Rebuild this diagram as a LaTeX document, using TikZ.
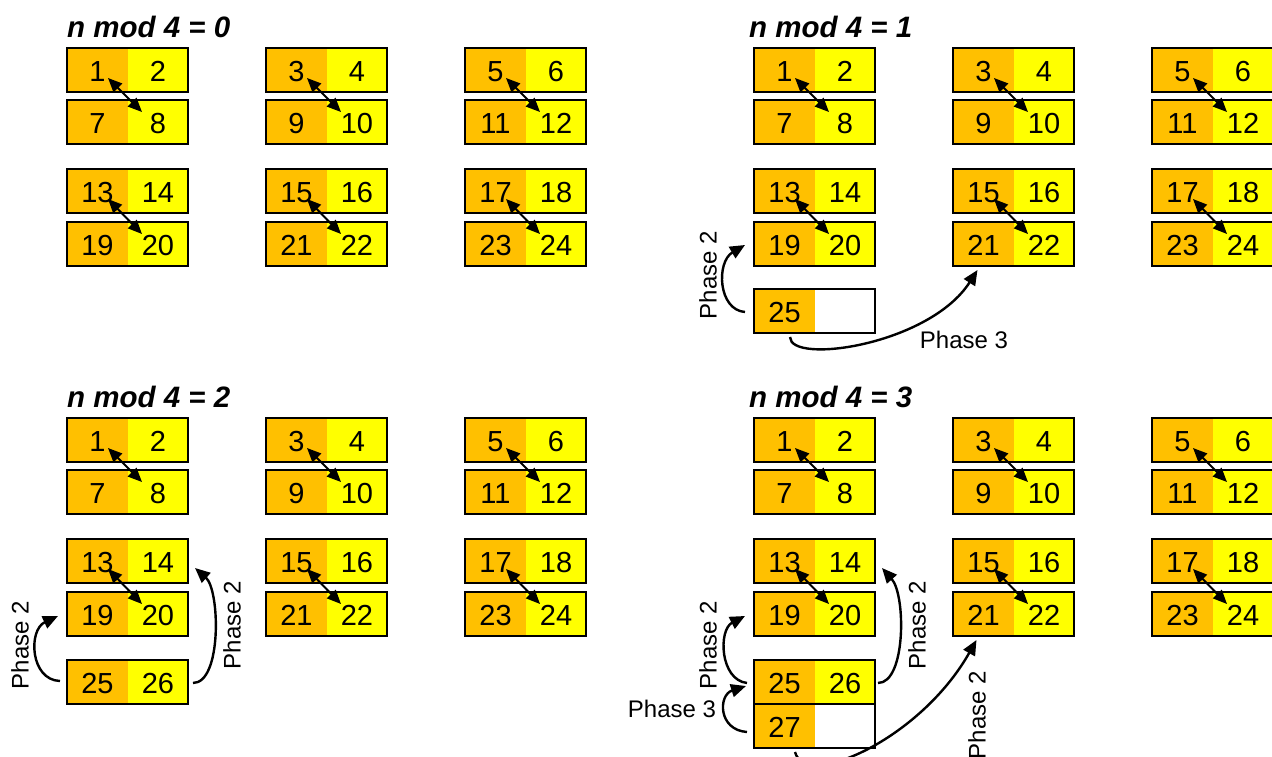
\documentclass[tikz,border=0pt]{standalone}
\usepackage{fontspec}
\setmainfont{Liberation Sans}
\usetikzlibrary{arrows.meta,calc}
\definecolor{cOrange}{RGB}{255,192,0}
\definecolor{cYellow}{RGB}{255,255,0}
\tikzset{
  cell/.style={minimum height=44pt, inner sep=0pt, outer sep=0pt, anchor=north west,
    text height=22.8pt, text depth=0pt, font=\fontsize{29}{29}\selectfont},
  lcell/.style={cell, minimum width=61pt, fill=cOrange},
  rcell/.style={cell, minimum width=60pt, fill=cYellow},
  wcell/.style={cell, minimum width=60pt},
  frame/.style={draw=black, line width=2pt},
  swaparrow/.style={line width=2pt, {Triangle[length=14pt,width=12pt]}-{Triangle[length=14pt,width=12pt]}},
  phase/.style={line width=2.4pt, -{Triangle[length=15pt,width=13pt]}},
  plabel/.style={font=\fontsize{24}{24}\selectfont, inner sep=0pt},
  title/.style={font=\fontsize{29.5}{29.5}\selectfont\bfseries\itshape, anchor=base west, inner sep=0pt},
}
\newcommand\pairbox[6]{%
  \node[lcell] (#1-l) at (#2+1,#3+1) {#4};
  \node[#6] (#1-r) at (#2+62,#3+1) {#5};
  \draw[frame] (#1-l.north west) rectangle (#1-r.south east);
}
\begin{document}
\begin{tikzpicture}[x=1pt,y=-1pt]
\useasboundingbox (0,0) rectangle (1272,756);
\fill[white] (0,0) rectangle (1272,756);

% titles
\node[title] (tA) at (67,37) {n mod 4 = 0};
\node[title] (tB) at (749,37) {n mod 4 = 1};
\node[title] (tC) at (67,407) {n mod 4 = 2};
\node[title] (tD) at (749,407) {n mod 4 = 3};

% the 24 common boxes in each quadrant
\foreach \q/\ox/\oy in {A/0/0,B/687/0,C/0/370,D/687/370}{
  \foreach \c in {0,1,2}{
    \foreach \ry/\base in {47/1, 99/7, 168/13, 221/19}{
      \pgfmathtruncatemacro\nl{\base+2*\c}
      \pgfmathtruncatemacro\nr{\nl+1}
      \pgfmathsetmacro\bx{66+\ox+199*\c}
      \pgfmathsetmacro\by{\ry+\oy}
      \pairbox{\q-\nl}{\bx}{\by}{\nl}{\nr}{rcell}
    }
    \pgfmathtruncatemacro\ta{1+2*\c}
    \pgfmathtruncatemacro\tb{7+2*\c}
    \pgfmathtruncatemacro\tc{13+2*\c}
    \pgfmathtruncatemacro\td{19+2*\c}
    \draw[swaparrow] ($(\q-\ta-l.center)+(10.5,8)$) -- ($(\q-\tb-r.center)+(-16,-10)$);
    \draw[swaparrow] ($(\q-\tc-l.center)+(10.5,8)$) -- ($(\q-\td-r.center)+(-16,-10)$);
  }
}

% extra boxes
\pairbox{B-25}{753}{288}{25}{}{wcell}
\pairbox{C-25}{66}{659}{25}{26}{rcell}
\pairbox{D-25}{753}{659}{25}{26}{rcell}
\pairbox{D-27}{753}{703}{27}{}{wcell}

% quadrant n mod 4 = 1
\draw[phase] ($(B-25-l.west)+(-9,1)$) .. controls +(-27,-2) and +(-29,17) .. ($(B-19-l.west)+(-9,1)$);
\node[plabel, rotate=90] (pB2) at (708,275) {Phase 2};
\draw[phase] ($(B-25-l.south)+(5.5,4)$) .. controls +(0,28) and +(-48,75) .. ($(B-21-l.south)+(-6,4)$);
\node[plabel] (pB3) at (964,340) {Phase 3};

% quadrant n mod 4 = 2
\draw[phase] ($(C-25-l.west)+(-7,-1)$) .. controls +(-30,-1) and +(-30,14) .. ($(C-19-l.west)+(-9,2)$);
\node[plabel, rotate=90] (pC2a) at (20,645) {Phase 2};
\draw[phase] ($(C-25-r.east)+(5,1)$) .. controls +(29,0) and +(25,22) .. ($(C-13-r.east)+(7,7)$);
\node[plabel, rotate=90] (pC2b) at (232,625) {Phase 2};

% quadrant n mod 4 = 3
\draw[phase] ($(D-25-l.west)+(-7,1)$) .. controls +(-27,-3) and +(-27,14) .. ($(D-19-l.west)+(-9,2)$);
\node[plabel, rotate=90] (pD2a) at (708,645) {Phase 2};
\draw[phase] ($(D-27-l.west)+(-7,6)$) .. controls +(-29,-2) and +(-28,9) .. ($(D-25-l.west)+(-8,4)$);
\node[plabel] (pD3) at (672,709) {Phase 3};
\draw[phase] ($(D-25-r.east)+(3,1)$) .. controls +(28,0) and +(24,27) .. ($(D-13-r.east)+(7,7)$);
\node[plabel, rotate=90] (pD2b) at (917,625) {Phase 2};
\draw[phase] ($(D-27-l.south)+(10.5,4)$) .. controls +(10,38) and +(-56.5,100) .. ($(D-21-l.south)+(-7,4)$);
\node[plabel, rotate=90] (pD2c) at (977,715) {Phase 2};
\end{tikzpicture}
\end{document}
